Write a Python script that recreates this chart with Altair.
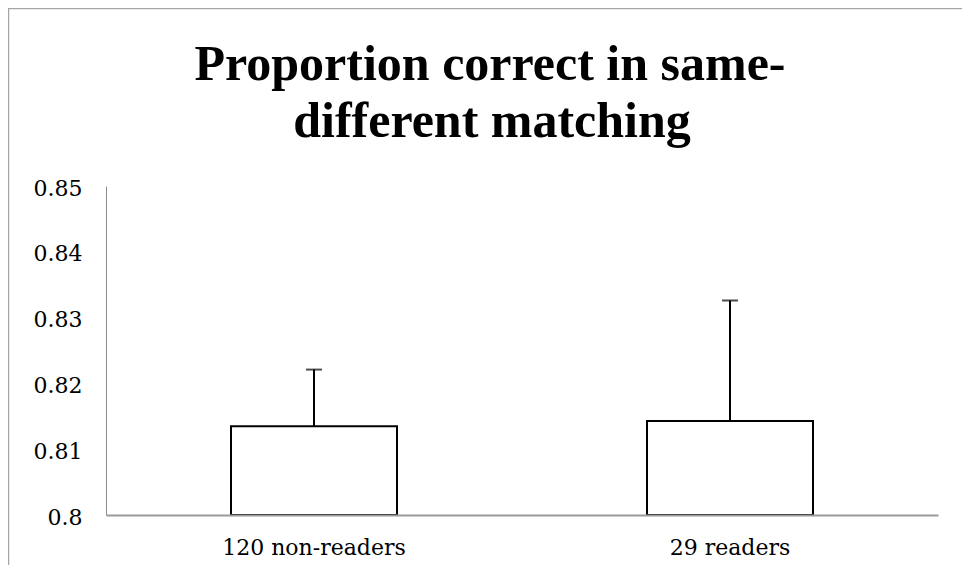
import altair as alt
import pandas as pd

groups = ["120 non-readers", "29 readers"]
means = [0.8135, 0.8143]
errors = [0.0086, 0.0183]
y_ticks = [0.80, 0.81, 0.82, 0.83, 0.84, 0.85]
title_lines = ["Proportion correct in same-", "different matching"]

df = pd.DataFrame({"group": groups, "mean": means, "err": errors})
df["upper"] = df["mean"] + df["err"]

W, H = 832, 329
LABEL_FONT = "DejaVu Serif"

x_enc = alt.X(
    "group:N",
    sort=groups,
    scale=alt.Scale(paddingInner=0, paddingOuter=0),
    axis=alt.Axis(
        title=None, labelAngle=0, ticks=False, labelFont=LABEL_FONT,
        labelFontSize=22, labelColor="#000", labelPadding=22, labelLimit=400,
        domainColor="#9a9a9a", domainWidth=2, zindex=1,
    ),
)
y_scale = alt.Scale(domain=[0.8, 0.85], zero=False, nice=False)

bars = alt.Chart(df).mark_bar(
    fill="white", stroke="black", strokeWidth=2, size=166
).encode(
    x=x_enc,
    y=alt.Y(
        "mean:Q", scale=y_scale,
        axis=alt.Axis(
            title=None, values=y_ticks, format=".2~f", grid=False, ticks=False,
            labelFont=LABEL_FONT, labelFontSize=22, labelColor="#000",
            labelPadding=24, labelOffset=2, domainColor="#8c8c8c", domainWidth=1,
        ),
    ),
    y2=alt.datum(0.8),
)

rules = alt.Chart(df).mark_rule(color="black", strokeWidth=2).encode(
    x=alt.X("group:N", sort=groups),
    y=alt.Y("mean:Q", scale=y_scale),
    y2="upper:Q",
)

caps = alt.Chart(df).mark_tick(color="black", thickness=2, size=16).encode(
    x=alt.X("group:N", sort=groups),
    y=alt.Y("upper:Q", scale=y_scale),
)

title_style = dict(
    font="Liberation Serif", fontSize=50, fontWeight="bold", color="#000",
    align="center", baseline="alphabetic",
)
title1 = alt.Chart(pd.DataFrame({"t": [title_lines[0]]})).mark_text(**title_style).encode(
    text="t:N", x=alt.value(384), y=alt.value(-106)
)
title2 = alt.Chart(pd.DataFrame({"t": [title_lines[1]]})).mark_text(**title_style).encode(
    text="t:N", x=alt.value(386), y=alt.value(-49)
)

frame_df = pd.DataFrame({"a": [0]})
frame_top = alt.Chart(frame_df).mark_rule(color="#a6a6a6", strokeWidth=1.5).encode(
    x=alt.value(-98), x2=alt.value(860), y=alt.value(-177.5)
)
frame_left = alt.Chart(frame_df).mark_rule(color="#a6a6a6", strokeWidth=1.5).encode(
    x=alt.value(-97.5), y=alt.value(-178), y2=alt.value(400)
)

chart = alt.layer(frame_top, frame_left, title1, title2, bars, rules, caps).properties(
    width=W,
    height=H,
    padding={"left": 98, "top": 178, "right": 24, "bottom": 50},
    autosize=alt.AutoSizeParams(type="none"),
).configure_view(stroke=None)

chart.save("out.html", embed_options={"renderer": "svg", "actions": False})
